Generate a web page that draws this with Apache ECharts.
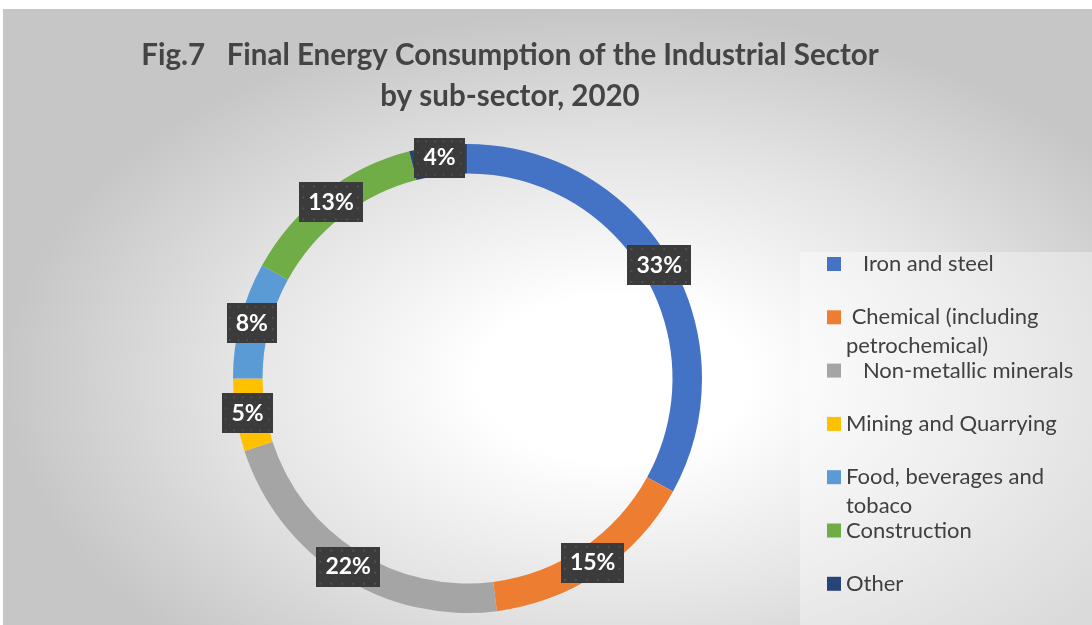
<!DOCTYPE html>
<html>
<head>
<meta charset="utf-8">
<script src="https://cdn.jsdelivr.net/npm/echarts@6/dist/echarts.min.js"></script>
<style>
  html, body { margin: 0; padding: 0; background: #ffffff; }
  #panel {
    position: absolute; left: 3px; top: 9px; width: 1089px; height: 616px;
    background: radial-gradient(ellipse farthest-side at 56% 60%, #ffffff 0%, #ffffff 22%, #e4e4e4 62%, #c6c6c6 100%);
  }
  #chart { position: absolute; left: 0; top: 0; width: 1092px; height: 625px; }
</style>
</head>
<body>
<div id="panel"></div>
<div id="chart"></div>
<script>
// Sub-sectors and their share of industrial final energy use (%)
const categories = [
  'Iron and steel',
  'Chemical (including petrochemical)',
  'Non-metallic minerals',
  'Mining and Quarrying',
  'Food, beverages and tobaco',
  'Construction',
  'Other'
];
const shares = [33, 15, 22, 5, 8, 13, 4];
const colors = ['#4472C4', '#ED7D31', '#A5A5A5', '#FFC000', '#5B9BD5', '#70AD47', '#264478'];

// Legend wording as laid out in the key (leading spaces and line breaks)
const legendText = {
  'Iron and steel': '   Iron and steel',
  'Chemical (including petrochemical)': ' Chemical (including\npetrochemical)',
  'Non-metallic minerals': '   Non-metallic minerals',
  'Mining and Quarrying': 'Mining and Quarrying',
  'Food, beverages and tobaco': 'Food, beverages and\ntobaco',
  'Construction': 'Construction',
  'Other': 'Other'
};

const titleLines = ['Fig.7   Final Energy Consumption of the Industrial Sector', 'by sub-sector, 2020'];

// Dotted dark fill for the value tags
function dottedTile(w, h) {
  const c = document.createElement('canvas');
  c.width = w; c.height = h;
  const g = c.getContext('2d');
  g.fillStyle = '#3b3b3b';
  g.fillRect(0, 0, w, h);
  g.fillStyle = '#515151';
  for (let y = 3; y < h; y += 11) {
    for (let x = 3; x < w; x += 11) g.fillRect(x, y, 2, 2);
  }
  g.fillStyle = '#454545';
  for (let y = 8.5; y < h; y += 11) {
    for (let x = 8.5; x < w; x += 11) g.fillRect(x, y, 1.5, 1.5);
  }
  return c;
}
const tile = dottedTile(64, 40);

const chart = echarts.init(document.getElementById('chart'), null, { renderer: 'canvas' });

const FONT = 'Lato, "Open Sans", sans-serif';
const LINE_H = 28.5;
const KEY_FIRST = 264;
const KEY_STEP = 53.3;

// One legend block per entry so every key sits on its own slot
const legends = categories.map(function (name, i) {
  const wrapped = legendText[name].indexOf('\n') >= 0;
  const center = KEY_FIRST + i * KEY_STEP;
  return {
    data: [name],
    orient: 'vertical',
    left: 827,
    top: center - (wrapped ? LINE_H * 1.5 : LINE_H / 2),
    padding: 0,
    itemWidth: 14,
    itemHeight: 14,
    icon: 'rect',
    selectedMode: true,
    formatter: function (n) {
      const t = legendText[n];
      return t.indexOf('\n') >= 0 ? '\n' + t : t;
    },
    textStyle: {
      fontFamily: FONT,
      fontSize: 22,
      color: '#404040',
      lineHeight: LINE_H
    }
  };
});

chart.setOption({
  backgroundColor: 'transparent',
  color: colors,
  title: {
    text: titleLines.join('\n'),
    left: 510,
    top: 35,
    padding: 0,
    textAlign: 'center',
    textStyle: {
      fontFamily: FONT,
      fontWeight: 'bold',
      fontSize: 29.5,
      lineHeight: 41,
      color: '#444444'
    }
  },
  graphic: [{
    type: 'rect',
    left: 800,
    top: 252,
    z: -1,
    silent: true,
    shape: { width: 292, height: 373 },
    style: { fill: 'rgba(255,255,255,0.35)' }
  }],
  legend: legends,
  series: [{
    type: 'pie',
    center: [467.5, 378.5],
    radius: [205, 234.5],
    startAngle: 90,
    clockwise: true,
    avoidLabelOverlap: false,
    emphasis: { scale: false },
    itemStyle: { borderWidth: 0 },
    label: {
      show: true,
      position: 'inside',
      formatter: '{c}%',
      fontFamily: FONT,
      fontWeight: 'bold',
      fontSize: 23,
      lineHeight: 24,
      color: '#ffffff',
      backgroundColor: { image: tile },
      padding: [8, 9, 8, 9],
      shadowColor: 'rgba(0,0,0,0.45)',
      shadowBlur: 6,
      shadowOffsetX: 3,
      shadowOffsetY: 3
    },
    labelLine: { show: false },
    data: categories.map(function (name, i) {
      return { name: name, value: shares[i] };
    })
  }]
});
</script>
</body>
</html>
